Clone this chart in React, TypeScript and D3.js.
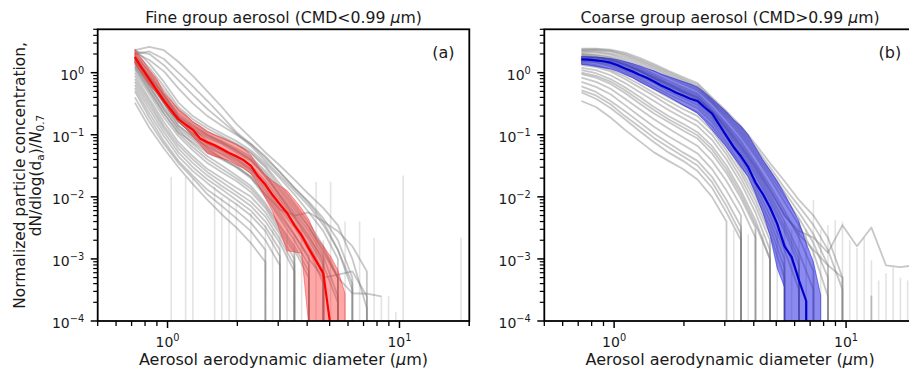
import React from 'react';
import * as d3 from 'd3';

// ---------- DATA ----------
// aerodynamic diameter bins (µm) used for the statistics (median / quartiles)
const statBins = [0.723, 0.777, 0.835, 0.898, 0.965, 1.037, 1.114, 1.197, 1.286, 1.382, 1.486, 1.596, 1.715, 1.843, 1.981, 2.129, 2.288, 2.458, 2.642, 2.839, 3.051, 3.278, 3.523, 3.786, 4.068, 4.371, 4.698, 5.048, 5.425, 5.829, 6.264, 6.732, 7.234, 7.774, 8.354];
// bins used for the individual (grey) size distributions
const curveBins = [0.723, 0.835, 0.965, 1.114, 1.286, 1.486, 1.715, 1.981, 2.288, 2.642, 3.051, 3.523, 4.068, 4.698, 5.425, 6.264, 7.234, 8.354, 9.647, 11.14, 12.86, 14.86, 17.15, 19.81];

// Fine group (a)
const fineMedian = [1.78, 1.17, 0.79, 0.525, 0.355, 0.25, 0.178, 0.145, 0.12, 0.087, 0.076, 0.068, 0.059, 0.051, 0.045, 0.039, 0.0316, 0.0214, 0.0158, 0.0107, 7.6e-3, 5.5e-3, 3.5e-3, 2.4e-3, 1.45e-3, 9.3e-4, 5.8e-4, 8e-5, 0];
const fineQ25 = [1.41, 0.93, 0.63, 0.47, 0.32, 0.22, 0.166, 0.126, 0.093, 0.069, 0.05, 0.045, 0.042, 0.038, 0.033, 0.029, 0.0235, 0.0158, 9.5e-3, 5.8e-3, 2.8e-3, 1.35e-3, 1.3e-3, 1.23e-3, 8e-5, 0, 0, 0, 0, 0, 0];
const fineQ75 = [2.35, 1.66, 1.12, 0.79, 0.48, 0.355, 0.26, 0.21, 0.162, 0.138, 0.115, 0.1, 0.089, 0.079, 0.069, 0.06, 0.047, 0.0316, 0.0224, 0.018, 0.015, 0.0126, 9.1e-3, 6.5e-3, 4.3e-3, 2.3e-3, 1.6e-3, 1.1e-3, 6.6e-4, 2.75e-4, 0];
const fineCurves = [
  [2.3, 2.6, 2.3, 1.5, 0.89, 0.5, 0.28, 0.15, 0.089, 0.052, 0.032, 0.019, 0.011, 6.6e-3, 3.5e-3, 1e-3, 1.6e-4, 0],
  [2.0, 2.2, 1.66, 1.0, 0.6, 0.35, 0.2, 0.11, 0.071, 0.042, 0.025, 0.014, 8.3e-3, 4.5e-3, 2e-3, 5e-4, 0],
  [2.1, 1.6, 1.05, 0.56, 0.32, 0.2, 0.14, 0.1, 0.071, 0.045, 0.025, 0.014, 7.9e-3, 4e-3, 1.4e-3, 3.2e-4, 0],
  [2.4, 1.4, 0.71, 0.33, 0.2, 0.14, 0.105, 0.079, 0.056, 0.035, 0.02, 0.011, 5.6e-3, 2.8e-3, 1e-3, 0],
  [1.9, 1.05, 0.52, 0.25, 0.16, 0.11, 0.089, 0.071, 0.052, 0.032, 0.016, 7.9e-3, 3.8e-3, 1.6e-3, 5e-4, 0],
  [1.66, 0.79, 0.38, 0.18, 0.12, 0.089, 0.071, 0.052, 0.038, 0.022, 0.011, 5.6e-3, 2.8e-3, 1.1e-3, 2.5e-4, 0],
  [2.0, 1.0, 0.45, 0.2, 0.13, 0.095, 0.074, 0.056, 0.04, 0.024, 0.0105, 5e-3, 2.4e-3, 8.9e-4, 0],
  [1.5, 0.71, 0.33, 0.16, 0.105, 0.072, 0.056, 0.042, 0.028, 0.015, 7.1e-3, 3.5e-3, 1.6e-3, 5.6e-4, 0],
  [1.78, 0.83, 0.4, 0.19, 0.126, 0.079, 0.06, 0.044, 0.032, 0.018, 8.9e-3, 4.5e-3, 2e-3, 7.9e-4, 2e-4, 0],
  [1.32, 0.6, 0.28, 0.14, 0.095, 0.066, 0.05, 0.038, 0.026, 0.014, 6.3e-3, 3.2e-3, 1.4e-3, 4e-4, 0],
  [1.58, 0.76, 0.35, 0.166, 0.1, 0.06, 0.042, 0.03, 0.021, 0.011, 5e-3, 2.4e-3, 1.1e-3, 0],
  [1.12, 0.5, 0.22, 0.11, 0.076, 0.052, 0.04, 0.03, 0.02, 0.01, 4.5e-3, 2e-3, 7.9e-4, 0],
  [1.41, 0.63, 0.26, 0.12, 0.071, 0.045, 0.032, 0.022, 0.015, 7.9e-3, 3.5e-3, 1.6e-3, 6.3e-4, 0],
  [1.0, 0.45, 0.19, 0.095, 0.056, 0.035, 0.025, 0.018, 0.012, 6.6e-3, 2.8e-3, 1.26e-3, 0],
  [0.89, 0.38, 0.16, 0.076, 0.045, 0.028, 0.02, 0.014, 0.01, 5.6e-3, 2.5e-3, 1e-3, 0],
  [0.71, 0.3, 0.126, 0.06, 0.035, 0.022, 0.015, 0.0105, 7.1e-3, 4e-3, 1.8e-3, 6.3e-4, 0],
  [0.56, 0.22, 0.095, 0.045, 0.026, 0.0166, 0.011, 7.6e-3, 5e-3, 2.8e-3, 1.1e-3, 0],
  [0.5, 0.19, 0.079, 0.038, 0.022, 0.013, 8.9e-3, 6e-3, 3.8e-3, 2e-3, 7.9e-4, 0],
  [0.4, 0.16, 0.071, 0.035, 0.02, 0.011, 7.1e-3, 4.5e-3, 2.8e-3, 1.4e-3, 0],
  [0.33, 0.13, 0.06, 0.03, 0.016, 8.9e-3, 5.2e-3, 3.2e-3, 1.8e-3, 8.9e-4, 0],
  [1.26, 0.56, 0.25, 0.126, 0.083, 0.056, 0.042, 0.032, 0.021, 0.011, 6.3e-3, 5e-3, 5.6e-3, 4e-3, 2.8e-3, 1.6e-3, 6.3e-4, 0],
  [1.58, 0.71, 0.32, 0.14, 0.089, 0.063, 0.048, 0.035, 0.024, 0.0126, 5.6e-3, 2.5e-3, 1e-3, 5e-4, 5.6e-4, 6.3e-4, 2.5e-4, 0],
  [2.1, 1.2, 0.6, 0.28, 0.178, 0.126, 0.095, 0.071, 0.05, 0.03, 0.014, 7.1e-3, 3.3e-3, 1.26e-3, 5e-4, 2.8e-4, 2.75e-4, 2.5e-4],
  [1.82, 0.89, 0.42, 0.2, 0.138, 0.1, 0.076, 0.056, 0.04, 0.021, 0.01, 4.8e-3, 2.2e-3, 1e-3, 0],
  [1.5, 0.69, 0.33, 0.16, 0.107, 0.071, 0.054, 0.04, 0.028, 0.0158, 7.6e-3, 3.8e-3, 1.66e-3, 6.3e-4, 0],
  [1.2, 0.52, 0.22, 0.105, 0.063, 0.04, 0.028, 0.02, 0.0135, 7.2e-3, 3.2e-3, 1.4e-3, 5e-4, 0],
  [0.63, 0.26, 0.11, 0.052, 0.03, 0.019, 0.0132, 8.9e-3, 6e-3, 3.3e-3, 1.4e-3, 0],
  [2.2, 2.0, 1.32, 0.76, 0.44, 0.26, 0.166, 0.105, 0.066, 0.038, 0.022, 0.0126, 7.1e-3, 3.5e-3, 1.4e-3, 4e-4, 0],
  [0.79, 0.34, 0.14, 0.068, 0.04, 0.025, 0.0174, 0.012, 8.3e-3, 4.8e-3, 2.1e-3, 7.9e-4, 0],
  [1.66, 0.89, 0.44, 0.22, 0.145, 0.1, 0.079, 0.06, 0.044, 0.026, 0.0126, 6.3e-3, 3.2e-3, 1.4e-3, 5e-4, 0],
];
// isolated zero-count bins (vertical drop lines): diameter and value before the drop
const fineDropX = [1.037, 1.197, 1.286, 1.596, 1.715, 1.843, 1.981, 2.288, 2.642, 2.839, 3.051, 3.278, 3.523, 3.786, 4.371, 4.698, 5.048, 5.829, 6.732, 7.774, 8.354, 8.977, 9.647, 10.37, 18.43];
const fineDropTop = [0.021, 0.021, 0.02, 0.0145, 0.01, 9e-3, 8e-3, 5.5e-3, 3.5e-3, 3e-3, 2.4e-3, 3e-3, 2.4e-3, 3e-3, 0.0175, 2e-3, 0.0175, 4e-3, 4e-3, 2.2e-3, 2.5e-4, 2.5e-4, 1.4e-4, 0.022, 2.2e-3];

// Coarse group (b)
const coarseMedian = [1.64, 1.62, 1.58, 1.53, 1.45, 1.32, 1.17, 1.05, 0.93, 0.83, 0.72, 0.62, 0.55, 0.48, 0.43, 0.38, 0.35, 0.275, 0.22, 0.145, 0.095, 0.063, 0.045, 0.03, 0.017, 0.0112, 6.8e-3, 3.7e-3, 1.6e-3, 1.07e-3, 4.5e-4, 2.1e-4, 0];
const coarseQ25 = [1.36, 1.32, 1.26, 1.2, 1.15, 1.05, 0.93, 0.83, 0.71, 0.62, 0.54, 0.47, 0.41, 0.35, 0.3, 0.26, 0.22, 0.166, 0.12, 0.087, 0.063, 0.044, 0.03, 0.021, 0.0112, 5.6e-3, 2.4e-3, 7.1e-4, 3.5e-4, 0, 0, 0, 0, 0, 0];
const coarseQ75 = [1.82, 1.8, 1.78, 1.74, 1.7, 1.62, 1.51, 1.41, 1.29, 1.17, 1.07, 0.95, 0.87, 0.79, 0.72, 0.66, 0.59, 0.48, 0.38, 0.3, 0.234, 0.174, 0.138, 0.1, 0.063, 0.04, 0.027, 0.018, 0.0112, 6.8e-3, 4e-3, 1.8e-3, 8.9e-4, 2.6e-4, 0];
const coarseCurves = [
  [2.45, 2.45, 2.35, 2.1, 1.74, 1.38, 1.07, 0.85, 0.68, 0.4, 0.24, 0.138, 0.071, 0.035, 0.018, 8.9e-3, 5e-3, 2.2e-3, 5e-4, 0],
  [2.3, 2.3, 2.2, 1.9, 1.55, 1.23, 0.95, 0.76, 0.6, 0.35, 0.21, 0.115, 0.056, 0.026, 0.012, 5.6e-3, 2.5e-3, 7.9e-4, 0],
  [2.14, 2.1, 1.95, 1.66, 1.35, 1.07, 0.83, 0.66, 0.52, 0.32, 0.178, 0.095, 0.045, 0.02, 8.3e-3, 3.5e-3, 1.26e-3, 2.5e-4, 0],
  [2.0, 1.95, 1.82, 1.55, 1.23, 0.95, 0.74, 0.58, 0.46, 0.275, 0.15, 0.079, 0.035, 0.015, 6e-3, 2.2e-3, 6.3e-4, 0],
  [1.9, 1.82, 1.66, 1.38, 1.1, 0.85, 0.66, 0.51, 0.4, 0.24, 0.126, 0.063, 0.028, 0.011, 4e-3, 1.26e-3, 3.2e-4, 0],
  [1.78, 1.74, 1.58, 1.32, 1.05, 0.79, 0.6, 0.47, 0.36, 0.22, 0.11, 0.052, 0.022, 8.3e-3, 2.8e-3, 7.9e-4, 0],
  [1.7, 1.66, 1.5, 1.23, 0.95, 0.72, 0.55, 0.43, 0.33, 0.2, 0.1, 0.045, 0.018, 6.3e-3, 1.8e-3, 5e-4, 0],
  [1.66, 1.58, 1.41, 1.15, 0.89, 0.68, 0.5, 0.39, 0.3, 0.18, 0.089, 0.04, 0.015, 5e-3, 1.4e-3, 3.2e-4, 0],
  [1.58, 1.5, 1.35, 1.07, 0.81, 0.6, 0.45, 0.35, 0.27, 0.16, 0.076, 0.033, 0.0126, 4e-3, 1e-3, 0],
  [1.5, 1.45, 1.26, 0.98, 0.74, 0.54, 0.4, 0.3, 0.23, 0.138, 0.066, 0.028, 0.0105, 3.2e-3, 7.1e-4, 0],
  [1.41, 1.32, 1.12, 0.87, 0.65, 0.47, 0.35, 0.26, 0.2, 0.117, 0.056, 0.024, 8.7e-3, 2.5e-3, 5e-4, 0],
  [1.32, 1.23, 1.05, 0.79, 0.58, 0.42, 0.3, 0.22, 0.166, 0.1, 0.048, 0.02, 7.1e-3, 2e-3, 0],
  [1.2, 1.1, 0.91, 0.68, 0.49, 0.35, 0.25, 0.186, 0.138, 0.083, 0.04, 0.0166, 5.6e-3, 1.4e-3, 0],
  [1.1, 0.98, 0.79, 0.58, 0.41, 0.28, 0.2, 0.15, 0.11, 0.066, 0.032, 0.0126, 4.2e-3, 1e-3, 0],
  [0.95, 0.83, 0.66, 0.47, 0.32, 0.22, 0.16, 0.117, 0.087, 0.05, 0.024, 9.5e-3, 3.2e-3, 0],
  [0.83, 0.71, 0.55, 0.38, 0.26, 0.178, 0.126, 0.091, 0.066, 0.038, 0.018, 7.1e-3, 2.2e-3, 0],
  [0.71, 0.59, 0.45, 0.3, 0.2, 0.135, 0.095, 0.069, 0.05, 0.028, 0.0126, 5e-3, 0],
  [0.6, 0.49, 0.35, 0.24, 0.16, 0.105, 0.074, 0.052, 0.038, 0.021, 8.9e-3, 3.3e-3, 0],
  [0.48, 0.38, 0.27, 0.178, 0.115, 0.076, 0.052, 0.038, 0.026, 0.014, 5.6e-3, 2e-3, 0],
  [0.35, 0.28, 0.19, 0.12, 0.079, 0.052, 0.038, 0.028, 0.019, 0.01, 4e-3, 0],
  [2.0, 1.9, 1.74, 1.45, 1.15, 0.89, 0.69, 0.54, 0.43, 0.25, 0.14, 0.071, 0.032, 0.0132, 5e-3, 2.8e-3, 2.2e-3, 1.26e-3, 3.5e-3, 1.6e-3, 3.2e-3, 7.9e-4, 7.4e-4, 7.9e-4],
  [1.82, 1.78, 1.62, 1.35, 1.07, 0.83, 0.65, 0.5, 0.4, 0.24, 0.132, 0.066, 0.03, 0.0126, 5.2e-3, 2.5e-3, 1.4e-3, 7.9e-4, 5e-4, 0, 2.5e-4, 0],
  [2.2, 2.2, 2.04, 1.78, 1.45, 1.15, 0.89, 0.71, 0.56, 0.34, 0.195, 0.105, 0.05, 0.023, 0.01, 4.5e-3, 1.8e-3, 5e-4, 0],
  [2.34, 2.37, 2.26, 2.0, 1.64, 1.3, 1.01, 0.8, 0.64, 0.38, 0.224, 0.126, 0.063, 0.03, 0.014, 7.1e-3, 3.5e-3, 1.4e-3, 3.2e-4, 0],
  [1.0, 0.89, 0.72, 0.52, 0.36, 0.25, 0.178, 0.132, 0.098, 0.058, 0.0275, 0.011, 3.6e-3, 1e-3, 0],
  [0.52, 0.43, 0.31, 0.2, 0.135, 0.089, 0.063, 0.045, 0.032, 0.0174, 7.1e-3, 2.5e-3, 0],
  [1.86, 1.78, 1.62, 1.35, 1.07, 0.81, 0.63, 0.49, 0.38, 0.23, 0.12, 0.058, 0.025, 9.5e-3, 3.3e-3, 1e-3, 0],
];
const coarseDropX = [3.278, 3.523, 3.786, 4.068, 4.371, 4.698, 5.048, 5.425, 5.829, 6.264, 6.732, 7.234, 7.774, 8.354, 8.977, 9.647, 10.37, 11.14, 11.97, 12.86, 13.82, 14.86, 15.96, 17.15, 18.43, 19.81];
const coarseDropTop = [3e-3, 3e-3, 2.5e-3, 3e-3, 2.5e-3, 2e-3, 3e-3, 4e-3, 3e-3, 4.5e-3, 3e-3, 8.9e-3, 3e-3, 3.5e-3, 4.2e-3, 4e-3, 2e-3, 1.5e-3, 2.2e-3, 9.5e-4, 4.5e-4, 5.9e-4, 7.4e-4, 5e-4, 4.5e-4, 5e-4];

const xMajorTicks = [1, 10];
const yMajorTicks = [1e-4, 1e-3, 1e-2, 1e-1, 1];
const xTickExp = ['0', '1'];
const yTickExp = ['\u22124', '\u22123', '\u22122', '\u22121', '0'];

// ---------- LAYOUT ----------
const W = 909;
const H = 376;
const TOP = 29.3;
const BOTTOM = 321;
const FONT = 'DejaVu Sans, Verdana, sans-serif';
const TEXT = '#1a1a1a';

type PanelCfg = {
  id: string;
  left: number;
  right: number;
  titleMain: string;
  tag: string;
  median: number[];
  q25: number[];
  q75: number[];
  curves: number[][];
  dropX: number[];
  dropTop: number[];
  lineColor: string;
  bandColor: string;
  bandOpacity: number;
};

const panels: PanelCfg[] = [
  {
    id: 'a', left: 97.7, right: 469.3, titleMain: 'Fine group aerosol (CMD<0.99 ', tag: '(a)',
    median: fineMedian, q25: fineQ25, q75: fineQ75, curves: fineCurves, dropX: fineDropX, dropTop: fineDropTop,
    lineColor: '#ff0000', bandColor: '#ff2020', bandOpacity: 0.4,
  },
  {
    id: 'b', left: 544.3, right: 915.9, titleMain: 'Coarse group aerosol (CMD>0.99 ', tag: '(b)',
    median: coarseMedian, q25: coarseQ25, q75: coarseQ75, curves: coarseCurves, dropX: coarseDropX, dropTop: coarseDropTop,
    lineColor: '#0000cc', bandColor: '#0a0ae0', bandOpacity: 0.48,
  },
];

function Panel({ p }: { p: PanelCfg }) {
  const x = d3.scaleLog().domain([0.5, 20]).range([p.left, p.right]);
  const y = d3.scaleLog().domain([1e-4, 5]).range([BOTTOM, TOP]);
  const yv = (v: number) => (v > 0 ? y(v) : BOTTOM + 40000);

  const line = d3
    .line<[number, number]>()
    .x((d) => x(d[0]))
    .y((d) => yv(d[1]));

  const curvePaths = p.curves.map((c) => line(c.map((v, i) => [curveBins[i], v] as [number, number])) || '');
  const medianPath = line(p.median.map((v, i) => [statBins[i], v] as [number, number])) || '';

  const bandData = p.q75.map((v, i) => ({ x: statBins[i], lo: p.q25[i] ?? 0, hi: v }));
  const area = d3
    .area<{ x: number; lo: number; hi: number }>()
    .x((d) => x(d.x))
    .y0((d) => yv(d.lo))
    .y1((d) => yv(d.hi));
  const bandPath = area(bandData) || '';

  // minor ticks
  const xMinor: number[] = [];
  [0.1, 1, 10].forEach((dec) => {
    for (let k = 2; k <= 9; k++) {
      const v = k * dec;
      if (v >= 0.5 && v <= 20) xMinor.push(v);
    }
  });
  xMinor.push(20);
  const yMinor: number[] = [];
  [1e-4, 1e-3, 1e-2, 1e-1, 1].forEach((dec) => {
    for (let k = 2; k <= 9; k++) {
      const v = k * dec;
      if (v <= 5.0001) yMinor.push(v);
    }
  });

  const clipId = `clip-${p.id}`;
  const cx = (p.left + p.right) / 2;

  return (
    <g>
      <defs>
        <clipPath id={clipId}>
          <rect x={p.left} y={TOP} width={p.right - p.left} height={BOTTOM - TOP} />
        </clipPath>
      </defs>
      <g clipPath={`url(#${clipId})`}>
        {p.dropX.map((dx, i) => (
          <line key={`d${i}`} x1={x(dx)} x2={x(dx)} y1={y(p.dropTop[i])} y2={BOTTOM + 5}
            stroke="#808080" strokeOpacity={0.22} strokeWidth={1.6} />
        ))}
        {curvePaths.map((d, i) => (
          <path key={`c${i}`} d={d} fill="none" stroke="#7a7a7a" strokeOpacity={0.42} strokeWidth={1.8} strokeLinejoin="round" />
        ))}
        <path d={bandPath} fill={p.bandColor} fillOpacity={p.bandOpacity} stroke={p.bandColor} strokeOpacity={0.45} strokeWidth={1} />
        <path d={medianPath} fill="none" stroke={p.lineColor} strokeWidth={2.2} strokeLinejoin="round" />
      </g>

      {/* spines */}
      <rect x={p.left} y={TOP} width={p.right - p.left} height={BOTTOM - TOP} fill="none" stroke="#000" strokeWidth={1.8} />

      {/* x ticks */}
      {xMajorTicks.map((t, i) => (
        <g key={`xm${i}`}>
          <line x1={x(t)} x2={x(t)} y1={BOTTOM} y2={BOTTOM + 7} stroke="#000" strokeWidth={1.5} />
          <text x={x(t)} y={346.5} textAnchor="middle" fontSize={14} fontFamily={FONT} fill={TEXT}>
            10<tspan fontSize={9.8} dy={-6}>{xTickExp[i]}</tspan>
          </text>
        </g>
      ))}
      {xMinor.map((t, i) => (
        <line key={`xn${i}`} x1={x(t)} x2={x(t)} y1={BOTTOM} y2={BOTTOM + 5} stroke="#000" strokeWidth={1.3} />
      ))}

      {/* y ticks */}
      {yMajorTicks.map((t, i) => (
        <g key={`ym${i}`}>
          <line x1={p.left - 7} x2={p.left} y1={y(t)} y2={y(t)} stroke="#000" strokeWidth={1.5} />
          <text x={p.left - 13.5} y={y(t) + 7.3} textAnchor="end" fontSize={14} fontFamily={FONT} fill={TEXT}>
            10<tspan fontSize={9.8} dy={-6}>{yTickExp[i]}</tspan>
          </text>
        </g>
      ))}
      {yMinor.map((t, i) => (
        <line key={`yn${i}`} x1={p.left - 4.5} x2={p.left} y1={y(t)} y2={y(t)} stroke="#000" strokeWidth={1.2} />
      ))}

      {/* title */}
      <text x={cx} y={22.5} textAnchor="middle" fontSize={15.7} fontFamily={FONT} fill={TEXT}>
        {p.titleMain}
        <tspan fontStyle="italic">μ</tspan>m)
      </text>
      {/* x label */}
      <text x={cx} y={365} textAnchor="middle" fontSize={16} fontFamily={FONT} fill={TEXT}>
        Aerosol aerodynamic diameter (<tspan fontStyle="italic">μ</tspan>m)
      </text>
      {/* panel tag */}
      <text x={p.right - 26} y={58} textAnchor="middle" fontSize={16} fontFamily={FONT} fill={TEXT}>
        {p.tag}
      </text>
    </g>
  );
}

export default function App() {
  React.useEffect(() => {
    document.body.style.margin = '0';
  }, []);
  return (
    <svg width={W} height={H} viewBox={`0 0 ${W} ${H}`}
      style={{ position: 'absolute', left: 0, top: 0, display: 'block', background: '#fff' }}>
      <rect x={0} y={0} width={W} height={H} fill="#fff" />
      {panels.map((p) => (
        <Panel key={p.id} p={p} />
      ))}
      {/* y label */}
      <text transform="translate(24.5,175.5) rotate(-90)" textAnchor="middle" fontSize={15.4} fontFamily={FONT} fill={TEXT}>
        Normalized particle concentration,
      </text>
      <text transform="translate(41,175.5) rotate(-90)" textAnchor="middle" fontSize={15.4} fontFamily={FONT} fill={TEXT}>
        dN/dlog(d<tspan fontSize={10.5} dy={3}>a</tspan>
        <tspan dy={-3}>)/</tspan>
        <tspan fontStyle="italic">N</tspan>
        <tspan fontSize={10.5} dy={3}>0.7</tspan>
      </text>
    </svg>
  );
}
